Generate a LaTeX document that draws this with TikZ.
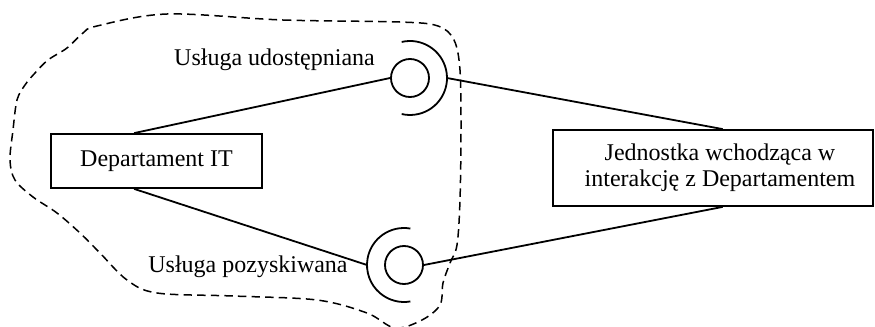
\documentclass[tikz,border=0pt]{standalone}
\usepackage{fontspec}
\setmainfont{Liberation Serif}
\usetikzlibrary{calc}
\begin{document}
\begin{tikzpicture}[x=0.5pt,y=-0.5pt,
  line width=0.9pt,
  unitbox/.style={draw,rectangle,inner sep=0pt,font=\fontsize{12}{13}\selectfont,align=center},
  ball/.style={draw,circle,minimum size=19pt,inner sep=0pt},
  lbl/.style={font=\fontsize{12}{13}\selectfont,inner sep=0pt},
  boundary/.style={dash pattern=on 4.2pt off 2.6pt,line width=0.75pt}]
\useasboundingbox (0,0) rectangle (875,327);

% department boundary
\draw[boundary] plot[smooth cycle,tension=0.55] coordinates {
  (167,14) (283,20) (400,22) (438,26) (454,40) (460,70) (461,130)
  (460,200) (457,245) (450,263) (443,283) (440,305) (422,320) (395,328)
  (367,313) (317,300) (233,296) (157,293) (127,280) (100,253) (80,233)
  (57,213) (33,197) (15,180) (10,160) (13,130) (17,100) (25,85)
  (35,73) (48,60) (67,48) (83,33) (97,26)};

% units
\node[unitbox,minimum width=105.5pt,minimum height=27pt] (dit) at (156.5,161) {Departament IT};
\node[unitbox,minimum width=160pt,minimum height=38pt] (ent) at (713,168)
  {\hspace*{7pt}Jednostka wchodząca w\\\hspace*{7pt}interakcję z Departamentem};

% provided service: ball with socket
\node[ball] (pu) at (410,78) {};
\draw ([shift={(103:18.5pt)}]pu.center) arc[start angle=103,end angle=-103,radius=18.5pt];
\coordinate (pur) at ([shift={(0:18.5pt)}]pu.center);

% acquired service: ball with socket
\node[ball] (pa) at (404,265) {};
\draw ([shift={(80:18.5pt)}]pa.center) arc[start angle=80,end angle=280,radius=18.5pt];
\coordinate (pal) at ([shift={(180:18.5pt)}]pa.center);

% labels
\node[lbl] (lu) at (274.5,60) {Usługa udostępniana};
\node[lbl] (lp) at (248,267) {Usługa pozyskiwana};

% connectors
\draw ($(dit.north west)!0.395!(dit.north east)$) -- (pu.west);
\draw (pur) -- ($(ent.north west)!0.53!(ent.north east)$);
\draw ($(dit.south west)!0.395!(dit.south east)$) -- (pal);
\draw (pa.east) -- ($(ent.south west)!0.53!(ent.south east)$);
\end{tikzpicture}
\end{document}
